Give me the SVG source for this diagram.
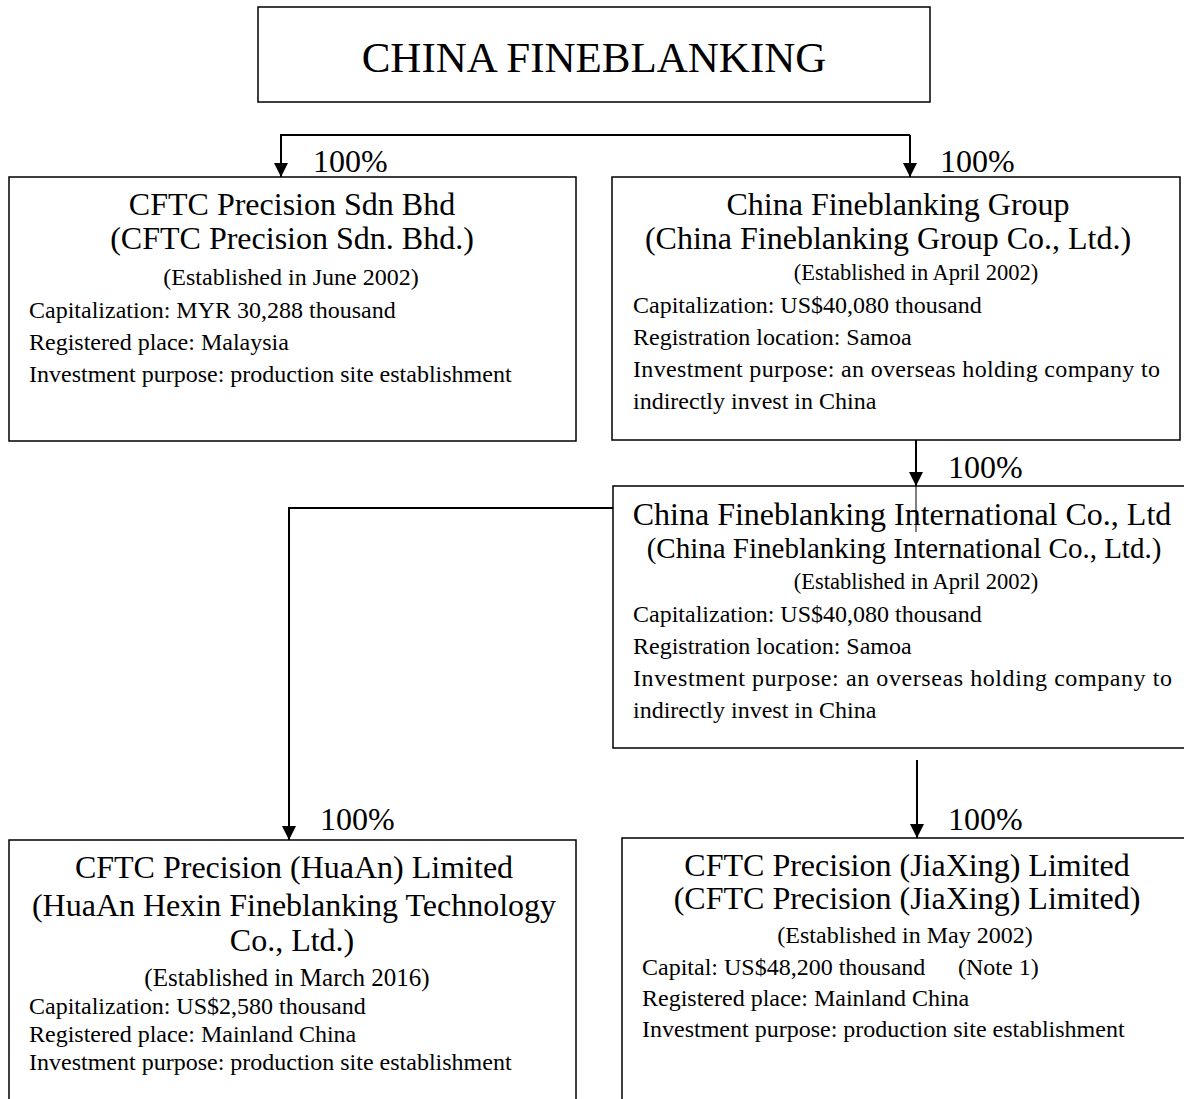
<svg xmlns="http://www.w3.org/2000/svg" width="1184" height="1099" viewBox="0 0 1184 1099">
<style>
text{font-family:"Liberation Serif","Times New Roman",serif;fill:#000}
.box{fill:#fff;stroke:#000;stroke-width:1.5}
.title{font-size:43px}
.h{font-size:32px;text-anchor:middle}
.est{font-size:23px;text-anchor:middle}
.b{font-size:24px}
.pct{font-size:32px}
.ln{fill:none;stroke:#000;stroke-width:2}
.thin{fill:none;stroke:#000;stroke-width:1}
</style>
<defs>
<marker id="arr" viewBox="0 0 14 14" refX="14" refY="7" markerWidth="14" markerHeight="14" markerUnits="userSpaceOnUse" orient="auto">
<path d="M0,0 L14,7 L0,14 Z" fill="#000"/>
</marker>
</defs>
<rect width="1184" height="1099" fill="#fff"/>

<g id="node-top">
<rect class="box" x="258" y="7" width="672" height="95"/>
<text class="title" x="594" y="72" text-anchor="middle">CHINA FINEBLANKING</text>
</g>

<g id="node-sdnbhd">
<rect class="box" x="9" y="177" width="567" height="264"/>
<text class="h" x="292" y="215">CFTC Precision Sdn Bhd</text>
<text class="h" x="292" y="249">(CFTC Precision Sdn. Bhd.)</text>
<text class="est" x="291" y="285" style="font-size:24px">(Established in June 2002)</text>
<text class="b" x="29" y="318">Capitalization: MYR 30,288 thousand</text>
<text class="b" x="29" y="350">Registered place: Malaysia</text>
<text class="b" x="29" y="382">Investment purpose: production site establishment</text>
</g>

<g id="node-group">
<rect class="box" x="612" y="177" width="568" height="263"/>
<text class="h" x="898" y="215">China Fineblanking Group</text>
<text class="h" x="888" y="249">(China Fineblanking Group Co., Ltd.)</text>
<text class="est" x="916" y="280" style="font-size:22.5px">(Established in April 2002)</text>
<text class="b" x="633" y="313">Capitalization: US$40,080 thousand</text>
<text class="b" x="633" y="345">Registration location: Samoa</text>
<text class="b" x="633" y="377" textLength="527" lengthAdjust="spacing">Investment purpose: an overseas holding company to</text>
<text class="b" x="633" y="409">indirectly invest in China</text>
</g>

<g id="node-international">
<rect class="box" x="613" y="486" width="580" height="262"/>
<text class="h" x="902" y="525">China Fineblanking International Co., Ltd</text>
<text class="h" x="904" y="558" style="font-size:29px">(China Fineblanking International Co., Ltd.)</text>
<text class="est" x="916" y="589" style="font-size:22.5px">(Established in April 2002)</text>
<text class="b" x="633" y="622">Capitalization: US$40,080 thousand</text>
<text class="b" x="633" y="654">Registration location: Samoa</text>
<text class="b" x="633" y="686" textLength="539" lengthAdjust="spacing">Investment purpose: an overseas holding company to</text>
<text class="b" x="633" y="718">indirectly invest in China</text>
</g>

<g id="node-huaan">
<rect class="box" x="9" y="840" width="567" height="270"/>
<text class="h" x="294" y="878">CFTC Precision (HuaAn) Limited</text>
<text class="h" x="294" y="916">(HuaAn Hexin Fineblanking Technology</text>
<text class="h" x="292" y="951">Co., Ltd.)</text>
<text class="est" x="287" y="986" style="font-size:25px">(Established in March 2016)</text>
<text class="b" x="29" y="1014">Capitalization: US$2,580 thousand</text>
<text class="b" x="29" y="1042">Registered place: Mainland China</text>
<text class="b" x="29" y="1070">Investment purpose: production site establishment</text>
</g>

<g id="node-jiaxing">
<rect class="box" x="622" y="838" width="580" height="272"/>
<text class="h" x="907" y="876">CFTC Precision (JiaXing) Limited</text>
<text class="h" x="907" y="909">(CFTC Precision (JiaXing) Limited)</text>
<text class="est" x="905" y="943" style="font-size:24px">(Established in May 2002)</text>
<text class="b" x="642" y="975">Capital: US$48,200 thousand</text>
<text class="b" x="958" y="975">(Note 1)</text>
<text class="b" x="642" y="1006">Registered place: Mainland China</text>
<text class="b" x="642" y="1037">Investment purpose: production site establishment</text>
</g>

<g id="connectors">
<path class="ln" d="M910,135 L281,135 L281,177" marker-end="url(#arr)"/>
<path class="ln" d="M910,135 L910,177" marker-end="url(#arr)"/>
<path class="ln" d="M916,440 L916,486" marker-end="url(#arr)"/>
<path class="thin" d="M916,486 L916,532"/>
<path class="ln" d="M613,508 L289,508 L289,840" marker-end="url(#arr)"/>
<path class="ln" d="M917,760 L917,838" marker-end="url(#arr)"/>
<text class="pct" x="313" y="172">100%</text>
<text class="pct" x="940" y="172">100%</text>
<text class="pct" x="948" y="478">100%</text>
<text class="pct" x="320" y="830">100%</text>
<text class="pct" x="948" y="830">100%</text>
</g>
</svg>
